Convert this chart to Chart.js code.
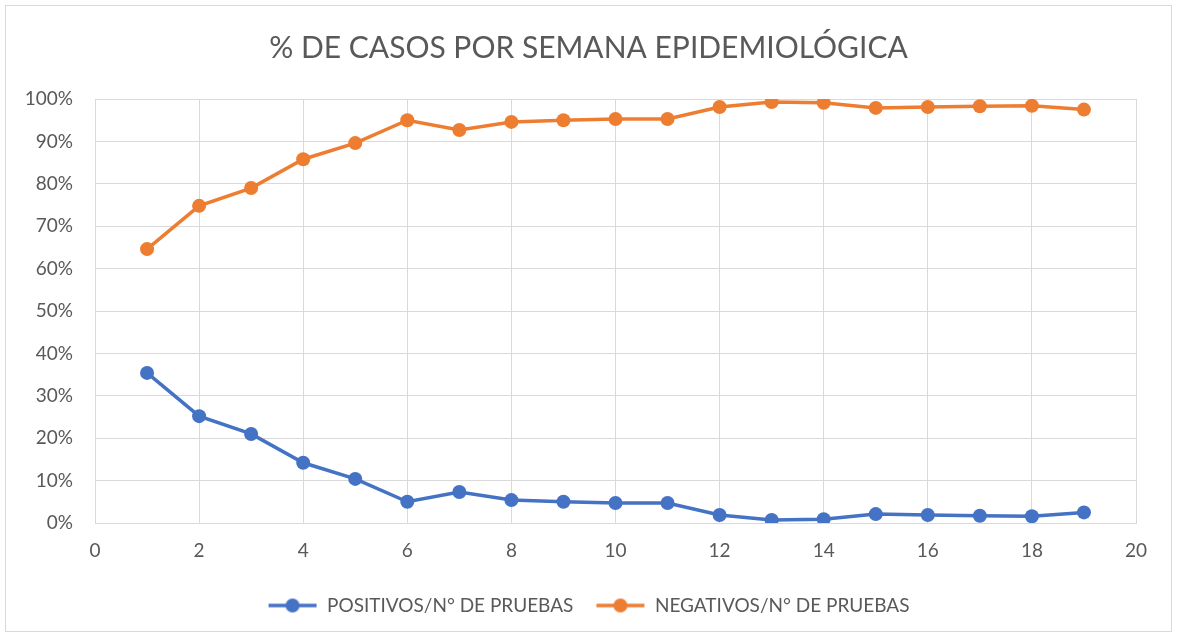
<!DOCTYPE html>
<html>
<head>
<meta charset="utf-8">
<script src="https://cdn.jsdelivr.net/npm/chart.js@4"></script>
<style>
    body { margin: 0; background: #fff; }
    #frame { position: absolute; left: 5px; top: 5px; width: 1165px; height: 625px; border: 1px solid #d9d9d9; }
    #wrap { position: absolute; left: 0; top: 0; width: 1177px; height: 637px; }
</style>
</head>
<body>
<div id="frame"></div>
<div id="wrap"><canvas id="lineChart" width="1177" height="637"></canvas></div>
<script>
    // semanas epidemiologicas
    var semanas = [1, 2, 3, 4, 5, 6, 7, 8, 9, 10, 11, 12, 13, 14, 15, 16, 17, 18, 19];
    var positivos = [35.4, 25.2, 21.0, 14.2, 10.4, 5.0, 7.3, 5.4, 5.0, 4.7, 4.7, 1.9, 0.7, 0.9, 2.1, 1.9, 1.7, 1.6, 2.5];
    var negativos = [64.6, 74.8, 79.0, 85.8, 89.6, 95.0, 92.7, 94.6, 95.0, 95.3, 95.3, 98.1, 99.3, 99.1, 97.9, 98.1, 98.3, 98.4, 97.5];
    var xTicks = [0, 2, 4, 6, 8, 10, 12, 14, 16, 18, 20];
    var yTicks = [0, 10, 20, 30, 40, 50, 60, 70, 80, 90, 100];

    var azul = '#4472C4';
    var naranja = '#ED7D31';
    var gris = '#595959';
    var fuente = 'Lato, "Open Sans", sans-serif';

    function toPoints(vals) {
        var pts = [];
        for (var i = 0; i < semanas.length; ++i) {
            pts.push({ x: semanas[i], y: vals[i] });
        }
        return pts;
    }

    // icono de leyenda: linea con circulo
    function legendIcon(color) {
        var c = document.createElement('canvas');
        c.width = 50;
        c.height = 16;
        var g = c.getContext('2d');
        g.strokeStyle = color;
        g.lineWidth = 3.5;
        g.beginPath();
        g.moveTo(1, 8);
        g.lineTo(49, 8);
        g.stroke();
        g.fillStyle = color;
        g.beginPath();
        g.arc(25, 8, 7, 0, Math.PI * 2);
        g.fill();
        return c;
    }
    var iconos = [legendIcon(azul), legendIcon(naranja)];

    // titulo y leyenda centrados en todo el lienzo
    var centrarCajas = {
        id: 'centrarCajas',
        afterLayout: function (chart) {
            [chart.titleBlock, chart.legend].forEach(function (b) {
                if (!b) return;
                b.left = 0;
                b.right = chart.width;
                b.width = chart.width;
            });
        }
    };

    var ctx = document.getElementById('lineChart').getContext('2d');
    var lineChart = new Chart(ctx, {
        type: 'line',
        plugins: [centrarCajas],
        data: {
            datasets: [{
                label: 'POSITIVOS/N° DE PRUEBAS',
                data: toPoints(positivos),
                borderColor: azul,
                backgroundColor: azul,
                borderWidth: 3.5,
                pointRadius: 7,
                pointBorderWidth: 0,
                fill: false
            }, {
                label: 'NEGATIVOS/N° DE PRUEBAS',
                data: toPoints(negativos),
                borderColor: naranja,
                backgroundColor: naranja,
                borderWidth: 3.5,
                pointRadius: 7,
                pointBorderWidth: 0,
                fill: false
            }]
        },
        options: {
            responsive: false,
            animation: false,
            layout: {
                padding: { left: 0, right: 41, top: 0, bottom: 12 }
            },
            scales: {
                x: {
                    type: 'linear',
                    min: 0,
                    max: 20,
                    afterBuildTicks: function (axis) {
                        axis.ticks = xTicks.map(function (v) { return { value: v }; });
                    },
                    afterFit: function (axis) { axis.height = 51; },
                    grid: { color: '#d9d9d9', lineWidth: 1, drawTicks: false },
                    border: { color: '#d9d9d9', width: 1 },
                    ticks: { color: gris, padding: 16, font: { family: fuente, size: 19 } }
                },
                y: {
                    min: 0,
                    max: 100,
                    afterBuildTicks: function (axis) {
                        axis.ticks = yTicks.map(function (v) { return { value: v }; });
                    },
                    afterFit: function (axis) { axis.width = 95; },
                    grid: { color: '#d9d9d9', lineWidth: 1, drawTicks: false },
                    border: { color: '#d9d9d9', width: 1 },
                    ticks: {
                        color: gris,
                        padding: 22,
                        font: { family: fuente, size: 19 },
                        callback: function (v) { return v + '%'; }
                    }
                }
            },
            plugins: {
                title: {
                    display: true,
                    text: '% DE CASOS POR SEMANA EPIDEMIOLÓGICA',
                    color: gris,
                    font: { family: fuente, size: 30, weight: 'normal' },
                    padding: { top: 30, bottom: 33 }
                },
                legend: {
                    position: 'bottom',
                    labels: {
                        color: gris,
                        font: { family: fuente, size: 19 },
                        usePointStyle: true,
                        pointStyleWidth: 50,
                        padding: 22,
                        generateLabels: function (chart) {
                            return chart.data.datasets.map(function (ds, i) {
                                return {
                                    text: ds.label,
                                    fontColor: gris,
                                    pointStyle: iconos[i],
                                    datasetIndex: i,
                                    hidden: false,
                                    lineWidth: 0
                                };
                            });
                        }
                    }
                },
                tooltip: { enabled: false }
            }
        }
    });
</script>
</body>
</html>
